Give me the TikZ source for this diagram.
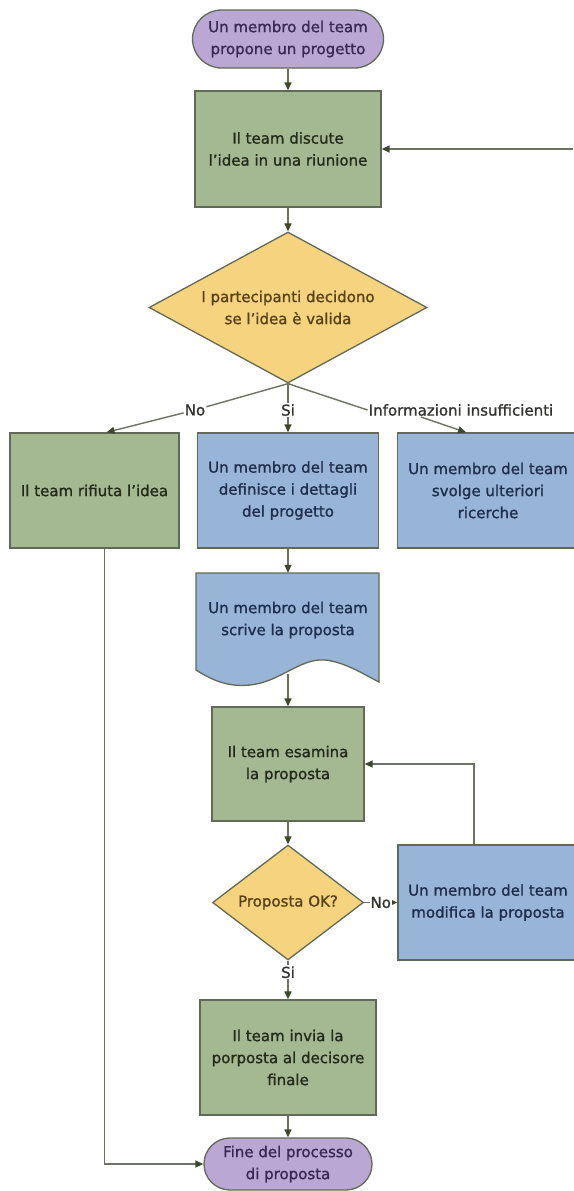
\documentclass[tikz,border=0pt]{standalone}
\usepackage{fontspec}
\setmainfont{DejaVu Sans}[FakeBold=1.2]
\usetikzlibrary{arrows.meta,shapes.geometric,calc}
\definecolor{lila}{RGB}{187,167,212}
\definecolor{salvia}{RGB}{164,184,146}
\definecolor{cielo}{RGB}{152,180,214}
\definecolor{giallo}{RGB}{246,211,126}
\definecolor{rim}{RGB}{96,106,86}
\definecolor{wire}{RGB}{108,114,100}
\definecolor{tip}{RGB}{62,72,46}
\definecolor{greentext}{RGB}{36,42,26}
\definecolor{bluetext}{RGB}{30,46,76}
\definecolor{purpletext}{RGB}{56,40,82}
\definecolor{yellowtext}{RGB}{86,66,22}
\definecolor{labeltext}{RGB}{50,52,48}

\begin{document}
\begin{tikzpicture}[x=1pt,y=-1pt,
  every node/.style={font=\fontsize{15}{22}\selectfont,align=center},
  box/.style={rectangle,draw=rim,line width=1.3pt,inner sep=2pt,minimum height=115pt},
  greenbox/.style={box,fill=salvia,text=greentext},
  bluebox/.style={box,fill=cielo,text=bluetext},
  ends/.style={rectangle,rounded corners=26pt,draw=rim,line width=1.3pt,fill=lila,text=purpletext,inner sep=1pt},
  choice/.style={diamond,draw=rim,line width=1.3pt,fill=giallo,text=yellowtext,inner sep=0pt},
  line/.style={draw=wire,line width=1.4pt},
  flow/.style={line,-{Triangle[length=8pt,width=7pt,color=tip]}},
  lbl/.style={fill=white,inner sep=1pt,text=labeltext}]
  \path[use as bounding box,fill=white] (0,0) rectangle (573,1191);

  \node[ends,rounded corners=29pt,minimum width=191pt,minimum height=58pt] (start) at (288,39)
    {Un membro del team\\propone un progetto};
  \node[greenbox,minimum width=186pt,minimum height=116pt] (discuss) at (288,149)
    {Il team discute\\l’idea in una riunione};
  \node[choice,aspect=1.84,minimum width=278pt,minimum height=151pt] (decide) at (288,307.5)
    {I partecipanti decidono\\se l’idea è valida};
  \node[greenbox,minimum width=169pt] (reject) at (94.5,490.5)
    {Il team rifiuta l’idea};
  \node[bluebox,minimum width=181pt] (details) at (288,490.5)
    {Un membro del team\\definisce i dettagli\\del progetto};
  \node[bluebox,minimum width=181pt] (research) at (488,490.5)
    {Un membro del team\\svolge ulteriori\\ricerche};
  \node[lbl] (nolbl) at (195,410) {No};
  \node[lbl] (silbl) at (288,410) {Si};
  \node[lbl] (infolbl) at (461,410) {Informazioni insufficienti};

  \filldraw[fill=cielo,draw=rim,line width=1.3pt] (196,573) -- (379,573) -- (379,682)
    .. controls (365,675) and (345,662) .. (325,660)
    .. controls (300,658) and (280,682) .. (250,685)
    .. controls (230,687) and (215,682) .. (196,670) -- cycle;
  \node[text=bluetext,minimum width=183pt,minimum height=94pt] (write) at (288,620)
    {Un membro del team\\scrive la proposta};
  \coordinate (wavebot) at (288,674);

  \node[greenbox,minimum width=152pt,minimum height=114pt] (review) at (288,764)
    {Il team esamina\\la proposta};
  \node[choice,aspect=1.31,minimum width=151pt,minimum height=115pt] (check) at (288,902.5)
    {Proposta OK?};
  \node[bluebox,minimum width=180pt] (modify) at (488,902.5)
    {Un membro del team\\modifica la proposta};
  \node[greenbox,minimum width=176pt] (send) at (288,1057.5)
    {Il team invia la\\porposta al decisore\\finale};
  \node[ends,minimum width=168pt,minimum height=52pt] (finish) at (288,1164)
    {Fine del processo\\di proposta};
  \coordinate (edge) at (573,149);

  \draw[flow] (start) -- (discuss);
  \draw[flow] (edge) -- (discuss);
  \draw[flow] (discuss) -- (decide);
  \draw[line] (decide.south) -- (nolbl);
  \draw[line] (decide.south) -- (silbl);
  \draw[line] (decide.south) -- (infolbl.west);
  \draw[flow] (nolbl) -- ([xshift=12pt]reject.north);
  \draw[flow] (silbl) -- (details);
  \draw[flow] ([xshift=-40pt]infolbl.south) -- ([xshift=-22pt]research.north);
  \draw[flow] (details) -- (write);
  \draw[flow] (wavebot) -- (review);
  \draw[flow] (review) -- (check);
  \draw[flow] (check) -- node[lbl] {No} (modify);
  \draw[flow] ([xshift=-14pt]modify.north) |- (review);
  \draw[flow] (check) -- node[lbl,pos=0.3] {Si} (send);
  \draw[flow] (send) -- (finish);
  \draw[flow] ([xshift=10pt]reject.south) |- (finish);
\end{tikzpicture}
\end{document}
